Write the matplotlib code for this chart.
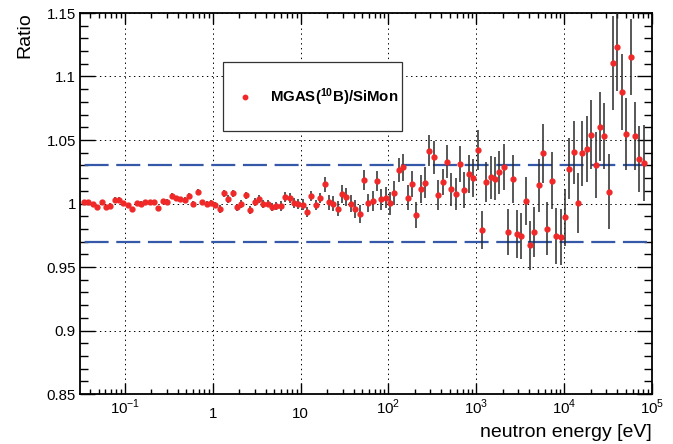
import numpy as np
import matplotlib.pyplot as plt
from matplotlib.patches import Rectangle
from matplotlib.lines import Line2D

plt.rcParams['font.family'] = 'Liberation Sans'
plt.rcParams['mathtext.fontset'] = 'custom'
plt.rcParams['mathtext.rm'] = 'Liberation Sans'
plt.rcParams['mathtext.bf'] = 'Liberation Sans:bold'
plt.rcParams['lines.scale_dashes'] = False

# bins de energia (20 por década)
energia = np.logspace(-1.465, 4.905, 129)

razao = [
    1.0008, 1.0013, 0.9995, 0.9969, 1.0013, 0.9974, 0.9984, 1.0031, 1.0031, 1.0005,
    0.9987, 0.9955, 1.0005, 1.0000, 1.0008, 1.0010, 1.0008, 0.9965, 1.0021, 1.0014,
    1.0059, 1.0040, 1.0035, 1.0029, 1.0060, 0.9999, 1.0093, 1.0009, 1.0000, 1.0007,
    0.9992, 0.9955, 1.0079, 1.0037, 1.0079, 0.9969, 0.9997, 1.0063, 0.9948, 1.0010,
    1.0037, 0.9995, 1.0000, 0.9974, 0.9979, 0.9979, 1.0050, 1.0045, 1.0005, 0.9995,
    0.9992, 0.9934, 1.0058, 0.9990, 1.0045, 1.0152, 1.0008, 1.0000, 0.9960, 1.0073,
    1.0052, 1.0000, 0.9955, 0.9916, 1.0184, 1.0005, 1.0020, 1.0177, 1.0033, 1.0046,
    1.0001, 1.0085, 1.0264, 1.0285, 1.0046, 1.0154, 0.9910, 1.0117, 1.0164, 1.0416,
    1.0364, 1.0067, 1.0169, 1.0330, 1.0114, 1.0072, 1.0311, 1.0106, 1.0235, 1.0203,
    1.0421, 0.9791, 1.0169, 1.0206, 1.0196, 1.0245, 1.0290, 0.9778, 1.0193, 0.9757,
    0.9744, 1.0022, 0.9670, 0.9773, 1.0143, 1.0395, 0.9802, 1.0180, 0.9744, 0.9734,
    0.9891, 1.0274, 1.0403, 1.0004, 1.0395, 1.0432, 1.0542, 1.0300, 1.0605, 1.0531,
    1.0093, 1.1109, 1.1235, 1.0880, 1.0547, 1.1151, 1.0531, 1.0348, 1.0316,
]

erro = [
    0.0018, 0.0018, 0.0018, 0.0018, 0.0018, 0.0018, 0.0018, 0.0018, 0.0018, 0.0018,
    0.0018, 0.0018, 0.0018, 0.0018, 0.0018, 0.0018, 0.0018, 0.0018, 0.0018, 0.0018,
    0.0020, 0.0020, 0.0020, 0.0020, 0.0020, 0.0020, 0.0020, 0.0020, 0.0020, 0.0020,
    0.0020, 0.0030, 0.0030, 0.0030, 0.0030, 0.0030, 0.0030, 0.0030, 0.0030, 0.0030,
    0.0030, 0.0030, 0.0030, 0.0030, 0.0030, 0.0040, 0.0040, 0.0040, 0.0040, 0.0040,
    0.0040, 0.0040, 0.0040, 0.0040, 0.0040, 0.0060, 0.0060, 0.0060, 0.0060, 0.0070,
    0.0070, 0.0070, 0.0070, 0.0070, 0.0080, 0.0070, 0.0080, 0.0080, 0.0085, 0.0080,
    0.0090, 0.0095, 0.0095, 0.0105, 0.0100, 0.0100, 0.0105, 0.0110, 0.0120, 0.0120,
    0.0130, 0.0120, 0.0105, 0.0130, 0.0130, 0.0127, 0.0140, 0.0140, 0.0150, 0.0150,
    0.0157, 0.0150, 0.0157, 0.0170, 0.0170, 0.0170, 0.0180, 0.0180, 0.0190, 0.0190,
    0.0180, 0.0190, 0.0190, 0.0197, 0.0210, 0.0230, 0.0210, 0.0227, 0.0220, 0.0220,
    0.0227, 0.0240, 0.0247, 0.0240, 0.0256, 0.0260, 0.0270, 0.0260, 0.0270, 0.0257,
    0.0295, 0.0370, 0.0350, 0.0300, 0.0285, 0.0300, 0.0270, 0.0260, 0.0300,
]

limites = [0.85, 1.15]
linhas_ref = [0.97, 1.03]

xticks = [0.1, 1, 10, 100, 1e3, 1e4, 1e5]
xlabels = ['$10^{-1}$', '1', '10', '$10^{2}$', '$10^{3}$', '$10^{4}$', '$10^{5}$']
yticks = [0.85, 0.9, 0.95, 1.0, 1.05, 1.1, 1.15]
ylabels = ['0.85', '0.9', '0.95', '1', '1.05', '1.1', '1.15']

W, H = 673, 444
fig = plt.figure(figsize=(W / 100, H / 100), dpi=100)
ax = fig.add_axes([80 / W, 1 - 394 / H, 572 / W, 381 / H])

ax.set_xscale('log')
ax.set_xlim(10 ** -1.512, 1e5)
ax.set_ylim(limites)

# linhas de referência +-3%
for yr in linhas_ref:
    ax.axhline(yr, color='#3658a8', lw=1.6, ls=(19.5, (17.3, 5.5)), zorder=2)

ax.errorbar(energia, razao, yerr=erro, fmt='o', color='#f02828', mec='#f02828',
            ms=3.5, ecolor='#2a2a2a', elinewidth=1.1, capsize=0, zorder=3)

ax.grid(True, which='major', color='k', lw=0.7, ls=(0, (1, 2.5)))

ax.set_xticks(xticks)
ax.set_xticklabels([])
ax.xaxis.set_minor_locator(plt.LogLocator(base=10, subs=np.arange(2, 10)))
ax.xaxis.set_minor_formatter(plt.NullFormatter())
ax.set_yticks(yticks)
ax.set_yticklabels(ylabels)
ax.yaxis.set_minor_locator(plt.MultipleLocator(0.01))

ax.tick_params(which='both', direction='in', top=True, right=True, width=1, labelsize=10.8)
ax.tick_params(axis='y', which='major', length=11, pad=3)
ax.tick_params(axis='y', which='minor', length=5.5)
ax.tick_params(axis='x', which='major', length=8)
ax.tick_params(axis='x', which='minor', length=3.5)
for s in ax.spines.values():
    s.set_linewidth(1.3)

# rótulos do eixo x no estilo ROOT
for xt, lab in zip(xticks, xlabels):
    dy = -0.052 if lab.startswith('$') else -0.062
    ax.text(xt, dy, lab, transform=ax.get_xaxis_transform(), ha='center',
            va='baseline', fontsize=10.8)

fig.text(652 / W, 1 - 432 / H, 'neutron energy [eV]', ha='right', va='center', fontsize=14)
fig.text(24.5 / W, 1 - 12 / H, 'Ratio', rotation=90, ha='center', va='top', fontsize=14)

# legenda
fig.patches.append(Rectangle((224 / W, 1 - 132 / H), 179 / W, 69 / H, transform=fig.transFigure,
                             facecolor='#777777', edgecolor='none', zorder=4))
fig.patches.append(Rectangle((223 / W, 1 - 131 / H), 179 / W, 69 / H, transform=fig.transFigure,
                             facecolor='white', edgecolor='#333333', lw=0.9, zorder=5))
fig.add_artist(Line2D([245 / W], [1 - 97 / H], marker='o', color='#f02828', ms=3.2,
                      transform=fig.transFigure, zorder=6))
fig.text(270 / W, 1 - 97 / H, r'$\mathbf{MGAS(^{10}B)/SiMon}$', ha='left', va='center',
         fontsize=10.8, zorder=6)

fig.savefig('out.png', dpi=100)
